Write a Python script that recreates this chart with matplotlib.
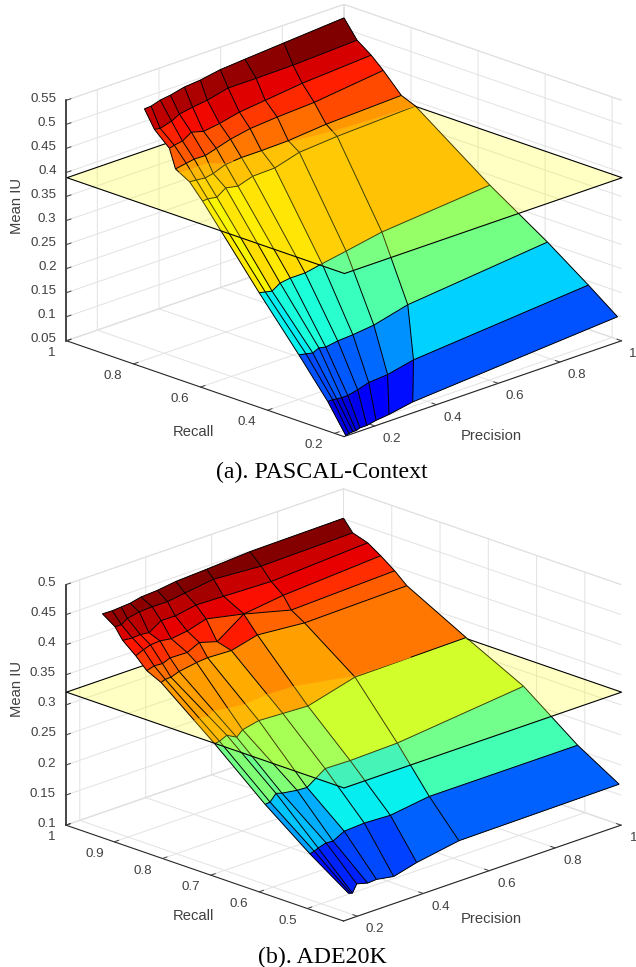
import numpy as np, matplotlib
matplotlib.use('Agg')
import matplotlib.pyplot as plt
from matplotlib import cm
from matplotlib.colors import Normalize
from matplotlib.transforms import ScaledTranslation
from mpl_toolkits.mplot3d import proj3d
from mpl_toolkits.mplot3d.art3d import Poly3DCollection, Line3DCollection

plt.rcParams['font.family'] = ['Liberation Sans', 'DejaVu Sans']

# --- (a) PASCAL-Context ---
recall_a = [
 [0.184]*10,
 [0.271]*10,
 [0.393]*10,
 [0.565]*10,
 [0.754,0.758,0.762,0.764,0.768,0.772,0.777,0.779,0.783,0.787],
 [0.813,0.815,0.817,0.818,0.820,0.822,0.824,0.825,0.827,0.829],
 [0.867,0.869,0.871,0.872,0.874,0.876,0.878,0.879,0.881,0.883],
 [0.886,0.890,0.894,0.896,0.900,0.904,0.909,0.911,0.915,0.919],
 [0.928,0.932,0.936,0.938,0.942,0.946,0.951,0.953,0.957,0.961],
 [0.967,0.971,0.975,0.977,0.981,0.985,0.990,0.992,0.996,1.000]]
precision_a = [
 [0.119,0.129,0.142,0.152,0.165,0.187,0.217,0.259,0.336,1.000],
 [0.155,0.171,0.184,0.200,0.220,0.252,0.288,0.349,0.433,1.000],
 [0.194,0.217,0.239,0.259,0.281,0.320,0.369,0.437,0.547,1.000],
 [0.252,0.272,0.294,0.320,0.353,0.401,0.456,0.534,0.650,1.000],
 [0.274,0.295,0.329,0.360,0.404,0.456,0.533,0.615,0.742,1.000],
 [0.296,0.320,0.351,0.378,0.420,0.474,0.541,0.629,0.754,1.000],
 [0.309,0.346,0.374,0.411,0.449,0.497,0.563,0.652,0.774,1.000],
 [0.310,0.330,0.361,0.392,0.436,0.492,0.562,0.648,0.772,1.000],
 [0.307,0.330,0.371,0.399,0.446,0.498,0.571,0.664,0.788,1.000],
 [0.317,0.343,0.377,0.412,0.462,0.518,0.588,0.670,0.801,1.000]]
mean_iu_a = [
 [0.045,0.047,0.048,0.048,0.051,0.051,0.055,0.058,0.067,0.097],
 [0.087,0.087,0.086,0.085,0.085,0.090,0.097,0.100,0.112,0.142],
 [0.146,0.143,0.140,0.146,0.143,0.147,0.149,0.154,0.172,0.202],
 [0.221,0.218,0.215,0.226,0.229,0.229,0.236,0.245,0.259,0.279],
 [0.361,0.360,0.355,0.367,0.360,0.368,0.367,0.381,0.385,0.390],
 [0.382,0.380,0.377,0.380,0.389,0.391,0.390,0.391,0.397,0.402],
 [0.393,0.396,0.398,0.397,0.403,0.411,0.418,0.422,0.425,0.441],
 [0.431,0.432,0.433,0.444,0.435,0.438,0.445,0.450,0.457,0.464],
 [0.461,0.457,0.462,0.470,0.473,0.475,0.483,0.482,0.481,0.485],
 [0.492,0.491,0.495,0.497,0.502,0.503,0.508,0.511,0.515,0.522]]
plane_a = 0.39
xticks_a = [0.2,0.4,0.6,0.8,1]
yticks_a = [0.2,0.4,0.6,0.8,1]
zticks_a = [0.05,0.1,0.15,0.2,0.25,0.3,0.35,0.4,0.45,0.5,0.55]

# --- (b) ADE20K ---
recall_b = [
 [0.429]*10,
 [0.515]*10,
 [0.627]*10,
 [0.746]*10,
 [0.837,0.842,0.848,0.855,0.860,0.865,0.869,0.869,0.869,0.851],
 [0.864,0.865,0.867,0.869,0.871,0.874,0.878,0.881,0.887,0.894],
 [0.893,0.894,0.896,0.898,0.900,0.903,0.907,0.910,0.916,0.923],
 [0.920,0.921,0.923,0.925,0.927,0.930,0.934,0.937,0.943,0.950],
 [0.951,0.952,0.954,0.956,0.958,0.961,0.965,0.968,0.974,0.981],
 [0.970,0.971,0.973,0.975,0.977,0.980,0.984,0.987,0.993,1.000]]
precision_b = [
 [0.179,0.185,0.191,0.204,0.237,0.264,0.316,0.386,0.514,1.000],
 [0.188,0.201,0.213,0.237,0.258,0.292,0.353,0.432,0.550,1.000],
 [0.216,0.231,0.249,0.267,0.313,0.343,0.398,0.474,0.617,1.000],
 [0.237,0.252,0.274,0.304,0.322,0.371,0.444,0.520,0.663,1.000],
 [0.208,0.228,0.254,0.289,0.349,0.390,0.468,0.547,0.690,0.974],
 [0.204,0.228,0.256,0.282,0.337,0.378,0.438,0.523,0.676,1.000],
 [0.213,0.238,0.262,0.294,0.331,0.384,0.447,0.566,0.694,1.000],
 [0.213,0.244,0.271,0.300,0.340,0.387,0.456,0.544,0.697,1.000],
 [0.235,0.256,0.277,0.316,0.358,0.409,0.468,0.559,0.712,1.000],
 [0.225,0.256,0.286,0.316,0.352,0.406,0.468,0.566,0.706,1.000]]
mean_iu_b = [
 [0.141,0.140,0.139,0.152,0.147,0.148,0.143,0.153,0.165,0.167],
 [0.181,0.183,0.186,0.190,0.189,0.199,0.201,0.199,0.208,0.208],
 [0.227,0.228,0.239,0.236,0.232,0.231,0.252,0.251,0.253,0.275],
 [0.291,0.292,0.298,0.289,0.298,0.304,0.302,0.300,0.321,0.323],
 [0.373,0.373,0.370,0.371,0.373,0.372,0.368,0.379,0.372,0.385],
 [0.386,0.389,0.387,0.391,0.389,0.397,0.386,0.415,0.391,0.393],
 [0.401,0.406,0.409,0.409,0.405,0.407,0.414,0.399,0.404,0.410],
 [0.419,0.417,0.417,0.414,0.426,0.424,0.428,0.425,0.419,0.424],
 [0.429,0.428,0.434,0.437,0.437,0.435,0.437,0.442,0.433,0.432],
 [0.447,0.446,0.446,0.446,0.449,0.449,0.451,0.452,0.453,0.451]]
plane_b = 0.322
xticks_b = [0.2,0.4,0.6,0.8,1]
yticks_b = [0.5,0.6,0.7,0.8,0.9,1]
zticks_b = [0.1,0.15,0.2,0.25,0.3,0.35,0.4,0.45,0.5]

W, H = 636, 967
fig = plt.figure(figsize=(W/100, H/100), dpi=100)
TXT = '#404040'


def clip_poly(pts, level, keep_above):
    out = []
    n = len(pts)
    for k in range(n):
        a, b = pts[k], pts[(k+1) % n]
        da, db = a[2]-level, b[2]-level
        ina = da >= 0 if keep_above else da <= 0
        inb = db >= 0 if keep_above else db <= 0
        if ina:
            out.append(a)
        if ina != inb:
            t = da/(da-db)
            out.append(a+t*(b-a))
    return out


def split_segment(a, b, level):
    da, db = a[2]-level, b[2]-level
    if da >= 0 and db >= 0:
        return [], [(a, b)]
    if da <= 0 and db <= 0:
        return [(a, b)], []
    m = a+(da/(da-db))*(b-a)
    return ([(a, m)], [(m, b)]) if da < 0 else ([(m, b)], [(a, m)])


def shift(ax, dx, dy):
    return ax.transData + ScaledTranslation(dx/100, dy/100, fig.dpi_scale_trans)


def style_tick_labels(ax, axis, dx, dy, ha):
    orig = axis.get_major_ticks

    def patched(numticks=None):
        ticks = orig(numticks)
        for t in ticks:
            t.label1.set_transform(shift(ax, dx, dy))
            t.label1.set_ha(ha)
        return ticks
    axis.get_major_ticks = patched


def offset_label(ax, label, dx, dy):
    orig = label.draw

    def draw(renderer):
        label._transform = shift(ax, dx, dy)
        orig(renderer)
    label.draw = draw


def panel(recall, precision, iu, level, xlim, ylim, zlim, xt, yt, zt, targets, off):
    ax = fig.add_axes([0, 0, 1, 1], projection='3d', proj_type='ortho', computed_zorder=False)
    ax.patch.set_alpha(0)
    ax.set_box_aspect((1, 1, 0.653))
    ax.view_init(elev=20.2, azim=-135, roll=0)
    ax.set_xlim(*xlim); ax.set_ylim(*ylim); ax.set_zlim(*zlim)
    R = np.array(recall, float)
    P = np.array(precision); Z = np.array(iu)
    G = np.dstack([P, R, Z])
    norm = Normalize(Z.min(), Z.max())
    low, lowc, up, upc = [], [], [], []
    for i in range(G.shape[0]-1):
        for j in range(G.shape[1]-1):
            q = [G[i, j], G[i, j+1], G[i+1, j+1], G[i+1, j]]
            c = cm.jet(norm(Z[i+1, j+1]))
            lo = clip_poly(q, level, False)
            hi = clip_poly(q, level, True)
            if len(lo) > 2:
                low.append(np.array(lo)); lowc.append(c)
            if len(hi) > 2:
                up.append(np.array(hi)); upc.append(c)
    ln_lo, ln_up = [], []
    for i in range(G.shape[0]):
        for j in range(G.shape[1]):
            for nb in ((i+1, j), (i, j+1)):
                if nb[0] < G.shape[0] and nb[1] < G.shape[1]:
                    l, u = split_segment(G[i, j], G[nb], level)
                    ln_lo += l; ln_up += u
    ax.add_collection3d(Poly3DCollection(low, facecolors=lowc, edgecolors=lowc, linewidths=0.3, zorder=1))
    ax.add_collection3d(Line3DCollection(ln_lo, colors='k', linewidths=0.7, zorder=1.5))
    xa, ya = xlim, ylim
    pl = [[(xa[0], ya[0], level), (xa[1], ya[0], level), (xa[1], ya[1], level), (xa[0], ya[1], level)]]
    ax.add_collection3d(Poly3DCollection(pl, facecolors=[(1, 1, 0.08, 0.25)], edgecolors='k', linewidths=0.8, zorder=2))
    ax.add_collection3d(Poly3DCollection(up, facecolors=upc, edgecolors=upc, linewidths=0.3, zorder=3))
    ax.add_collection3d(Line3DCollection(ln_up, colors='k', linewidths=0.7, zorder=3.5))

    ax.set_xticks(xt); ax.set_yticks(yt); ax.set_zticks(zt)
    fmt = lambda v: ('%g' % v)
    ax.set_xticklabels([fmt(v) for v in xt])
    ax.set_yticklabels([fmt(v) for v in yt])
    ax.set_zticklabels([fmt(v) for v in zt])
    ax.zaxis.set_ticks_position('upper')
    ax.zaxis.set_label_position('upper')
    for axis in (ax.xaxis, ax.yaxis, ax.zaxis):
        axis.set_pane_color((1, 1, 1, 1))
        axis.pane.set_edgecolor('#d9d9d9')
        axis.pane.set_linewidth(0.7)
        axis._axinfo['grid'].update(color='#e2e2e2', linewidth=0.7)
        axis._axinfo['tick'].update(inward_factor=0.0, outward_factor=0.2, linewidth={True: 0.7, False: 0.5})
        axis._axinfo['tick']['color'] = '#262626'
        axis.line.set_color('#262626')
        axis.line.set_linewidth(0.8)
        axis.set_tick_params(labelsize=9.6, colors=TXT, pad=2, length=3)
        axis.set_rotate_label(False)
    ax.zaxis.line.set_linewidth(1.2)
    ax.set_xlabel('Precision', fontsize=10.6, color=TXT, labelpad=2, rotation=0)
    ax.set_ylabel('Recall', fontsize=10.6, color=TXT, labelpad=2, rotation=0)
    ax.set_zlabel('Mean IU', fontsize=10.6, color=TXT, labelpad=6, rotation=90)
    style_tick_labels(ax, ax.xaxis, off['xt'][0], off['xt'][1], 'left')
    style_tick_labels(ax, ax.yaxis, off['yt'][0], off['yt'][1], 'right')
    style_tick_labels(ax, ax.zaxis, off['zt'][0], off['zt'][1], 'right')
    offset_label(ax, ax.xaxis.label, *off['xl'])
    offset_label(ax, ax.yaxis.label, *off['yl'])
    offset_label(ax, ax.zaxis.label, *off['zl'])

    # place the box so its corners land on the wanted pixels
    S0 = 400.0
    ax.set_position([0, 0, S0/W, S0/H])
    ax.apply_aspect()
    corners = [(xa[0], ya[0], zlim[0]), (xa[1], ya[0], zlim[0]), (xa[0], ya[1], zlim[0]), (xa[1], ya[1], zlim[1])]
    cs = np.array(corners).T
    u, v, _ = proj3d.proj_transform(cs[0], cs[1], cs[2], ax.get_proj())
    T0 = ax.transData.transform((0, 0)); Tu = ax.transData.transform((1, 0)); Tv = ax.transData.transform((0, 1))
    ku = (Tu[0]-T0[0])/S0; kv = (Tv[1]-T0[1])/S0
    ou = T0[0]/S0; ov = T0[1]/S0
    tx = np.array([t[0] for t in targets]); ty = H-np.array([t[1] for t in targets])
    gx, ix = np.polyfit(u, tx, 1)
    gy, iy = np.polyfit(v, ty, 1)
    S = 0.5*(gx/ku+gy/kv)
    ax.set_position([(ix-S*ou)/W, (iy-S*ov)/H, S/W, S/H])
    return ax


panel(recall_a, precision_a, mean_iu_a, plane_a, (0.1, 1), (0.172, 1), (0.05, 0.55),
      xticks_a, yticks_a, zticks_a, [(343, 437), (621, 341), (67, 341), (345, 4)],
      dict(xt=(-5, 8), yt=(1, 9), zt=(15, 7.5), xl=(-20, -13), yl=(17, -9), zl=(18, 15)))
panel(recall_b, precision_b, mean_iu_b, plane_b, (0.158, 1), (0.425, 1), (0.1, 0.5),
      xticks_b, yticks_b, zticks_b, [(343, 922), (620, 825), (67, 826), (344, 488)],
      dict(xt=(-4, 8), yt=(2, 9), zt=(15, 7.5), xl=(-20, -11), yl=(17, -8), zl=(18, 16)))

fig.text(322/W, 1-472/H, '(a). PASCAL-Context', family='Liberation Serif', fontsize=17.2, color='k', ha='center', va='center')
fig.text(322/W, 1-957/H, '(b). ADE20K', family='Liberation Serif', fontsize=17.2, color='k', ha='center', va='center')
fig.savefig('out.png', dpi=100)
